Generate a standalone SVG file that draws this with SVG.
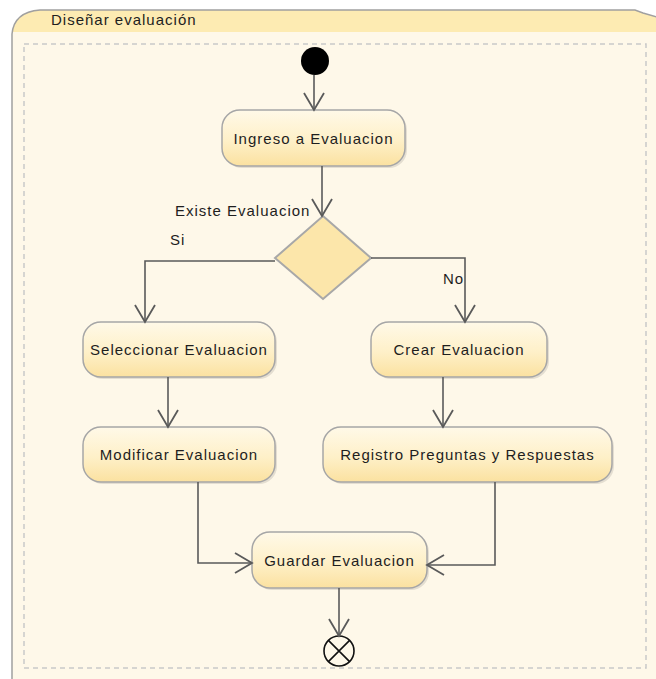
<svg xmlns="http://www.w3.org/2000/svg" width="656" height="679" viewBox="0 0 656 679">
  <defs>
    <linearGradient id="actFill" x1="0" y1="0" x2="0" y2="1">
      <stop offset="0" stop-color="#FFF9E8"/>
      <stop offset="0.55" stop-color="#FEF0C8"/>
      <stop offset="1" stop-color="#FBE1A0"/>
    </linearGradient>
    <marker id="open" viewBox="-19 -11 21 22" refX="0" refY="0" markerWidth="21" markerHeight="22" markerUnits="userSpaceOnUse" orient="auto">
      <path d="M-17,-10 L0,0 L-17,10" fill="none" stroke="#5A5A5A" stroke-width="1.8"/>
    </marker>
    <style>
      .lbl { font-family: "Liberation Sans", Arial, sans-serif; font-size: 15px; letter-spacing: 1px; fill: #1E1E1E; }
      .act { fill: url(#actFill); stroke: #A6A6A6; stroke-width: 1.5; }
      .shadow { fill: #000; opacity: 0.10; }
      .edge { fill: none; stroke: #5A5A5A; stroke-width: 1.6; marker-end: url(#open); }
    </style>
  </defs>

  <!-- canvas -->
  <rect x="0" y="0" width="656" height="679" fill="#FFFFFF"/>

  <!-- activity frame -->
  <g id="frame">
    <path d="M12,690 L12,34 Q14,12 40,10 L635,10 L643,13 L660,18 L660,690 Z" fill="#FEF8E9"/>
    <path d="M12,32 L12,34 Q14,12 40,10 L635,10 L643,13 L660,18 L660,32 Z" fill="#FDEBB2"/>
    <path d="M12,690 L12,34 Q14,12 40,10 L635,10 L643,13 L660,18" fill="none" stroke="#A0A0A0" stroke-width="1.5"/>
    <rect x="24" y="44" width="622" height="624" fill="none" stroke="#C9C9C9" stroke-width="1.5" stroke-dasharray="5,4"/>
    <text class="lbl" x="51" y="25">Diseñar evaluación</text>
  </g>

  <!-- initial node -->
  <g id="start">
    <circle cx="315" cy="61" r="14" fill="#000000"/>
  </g>

  <g id="ingreso">
    <rect class="shadow" x="224" y="112" width="183" height="56" rx="18"/>
    <rect class="act" x="222" y="110" width="183" height="56" rx="18"/>
    <text class="lbl" x="313.5" y="143.5" text-anchor="middle">Ingreso a Evaluacion</text>
  </g>

  <g id="decision">
    <polygon points="323,216 371,258 323,299 275,258" fill="#FCE6AA" stroke="#A8A8A8" stroke-width="2"/>
    <text class="lbl" x="175" y="216">Existe Evaluacion</text>
  </g>

  <g id="seleccionar">
    <rect class="shadow" x="85" y="324" width="192" height="55" rx="18"/>
    <rect class="act" x="83" y="322" width="192" height="55" rx="18"/>
    <text class="lbl" x="179" y="355" text-anchor="middle">Seleccionar Evaluacion</text>
  </g>

  <g id="modificar">
    <rect class="shadow" x="85" y="429" width="192" height="55" rx="18"/>
    <rect class="act" x="83" y="427" width="192" height="55" rx="18"/>
    <text class="lbl" x="179" y="460" text-anchor="middle">Modificar Evaluacion</text>
  </g>

  <g id="crear">
    <rect class="shadow" x="373" y="324" width="176" height="55" rx="18"/>
    <rect class="act" x="371" y="322" width="176" height="55" rx="18"/>
    <text class="lbl" x="459" y="355" text-anchor="middle">Crear Evaluacion</text>
  </g>

  <g id="registro">
    <rect class="shadow" x="325" y="429" width="289" height="55" rx="18"/>
    <rect class="act" x="323" y="427" width="289" height="55" rx="18"/>
    <text class="lbl" x="467.5" y="460" text-anchor="middle">Registro Preguntas y Respuestas</text>
  </g>

  <g id="guardar">
    <rect class="shadow" x="254" y="534" width="175" height="56" rx="18"/>
    <rect class="act" x="252" y="532" width="175" height="56" rx="18"/>
    <text class="lbl" x="339.5" y="565.5" text-anchor="middle">Guardar Evaluacion</text>
  </g>

  <!-- final node -->
  <g id="end">
    <circle cx="339" cy="651" r="15" fill="#FEF8E9" stroke="#111111" stroke-width="1.6"/>
    <path d="M328.4,640.4 L349.6,661.6 M349.6,640.4 L328.4,661.6" stroke="#111111" stroke-width="1.6"/>
  </g>

  <!-- control flows -->
  <g id="connectors">
    <path class="edge" d="M314,75 L314,110"/>
    <path class="edge" d="M322,166 L322,216"/>
    <path class="edge" d="M275,261 L145,261 L145,322"/>
    <path class="edge" d="M371,258 L465,258 L465,322"/>
    <path class="edge" d="M168,377 L168,427"/>
    <path class="edge" d="M443,377 L443,427"/>
    <path class="edge" d="M198,482 L198,563 L252,563"/>
    <path class="edge" d="M495,482 L495,565 L427,565"/>
    <path class="edge" d="M339,588 L339,636"/>
    <text class="lbl" x="170" y="245">Si</text>
    <text class="lbl" x="443" y="284">No</text>
  </g>
</svg>
